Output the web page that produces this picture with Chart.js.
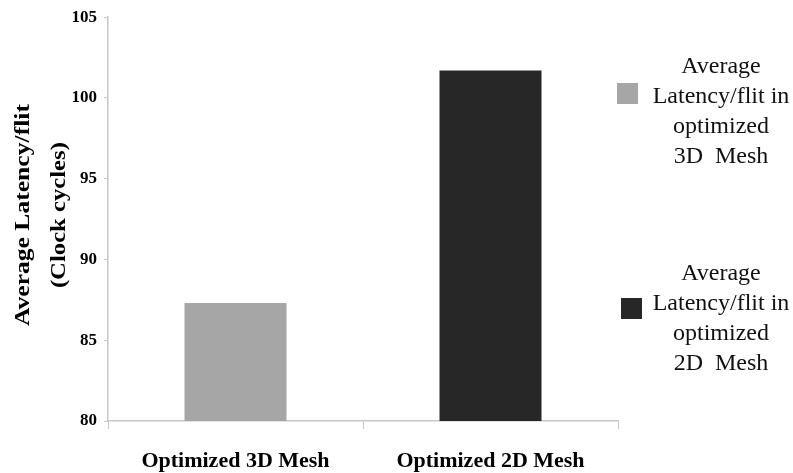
<!DOCTYPE html>
<html>
<head>
<meta charset="utf-8">
<script src="https://cdn.jsdelivr.net/npm/chart.js@4/dist/chart.umd.min.js"></script>
<style>
	body{ margin:0; background:#fff; }
	#wrap{ position:relative; width:793px; height:473px; }
	#legend{ position:absolute; left:0; top:0; font-family:"Liberation Serif", "Times New Roman", serif; font-size:24px; color:#111; }
	.legendItem{ position:absolute; width:156px; text-align:center; line-height:30px; }
	.legendBox{ position:absolute; width:21px; height:21px; }
</style>
</head>
<body>
<div id="wrap">
	<canvas id="latency" width="793" height="473"></canvas>
	<div id="legend"></div>
</div>
<script>
// chart data
const categories = ['Optimized 3D Mesh', 'Optimized 2D Mesh'];
const latency = [87.3, 101.7];
const barColors = ['#a6a6a6', '#272727'];
const legendLines = [
	['Average', 'Latency/flit in', 'optimized', '3D\u00a0 Mesh'],
	['Average', 'Latency/flit in', 'optimized', '2D\u00a0 Mesh']
];
const yTicks = [80, 85, 90, 95, 100, 105];
const yTitle = 'Average Latency/flit';
const ySubTitle = '(Clock cycles)';

const serif = '"Liberation Serif", "Times New Roman", serif';

// draw one rotated, slightly stretched title line
function drawRotated(ctx, text, x, y, font, length){
	ctx.save();
	ctx.font = font;
	let w = ctx.measureText(text).width;
	ctx.translate(x, y);
	ctx.rotate(-Math.PI / 2);
	ctx.scale(length / w, 1);
	ctx.fillText(text, 0, 0);
	ctx.restore();
}

// the two line y axis title on the left
const yTitlePlugin = {
	id: 'yTitle',
	afterDraw(chart){
		let ctx = chart.ctx;
		let area = chart.chartArea;
		let mid = (area.top + area.bottom) / 2 - 4;
		ctx.save();
		ctx.fillStyle = '#000';
		ctx.textAlign = 'center';
		ctx.textBaseline = 'middle';
		drawRotated(ctx, yTitle, 24, mid, 'bold 21px ' + serif, 222);
		drawRotated(ctx, ySubTitle, 60, mid, 'bold 20px ' + serif, 146);
		ctx.restore();
	}
};

function buildLegend(){
	let legend = document.querySelector('#legend');
	let tops = [50, 257];
	let boxLefts = [617, 621];
	legendLines.forEach((lines, i) => {
		let item = document.createElement('div');
		item.className = 'legendItem';
		item.style.left = '643px';
		item.style.top = tops[i] + 'px';
		item.innerHTML = lines.join('<br>');
		legend.appendChild(item);
		let box = document.createElement('div');
		box.className = 'legendBox';
		box.style.background = barColors[i];
		box.style.left = boxLefts[i] + 'px';
		box.style.top = (tops[i] + 33 + i * 8) + 'px';
		legend.appendChild(box);
	});
}

document.addEventListener('DOMContentLoaded', () => {
	let ctx = document.querySelector('#latency').getContext('2d');
	new Chart(ctx, {
		type: 'bar',
		data: {
			labels: categories,
			datasets: [{
				data: latency,
				backgroundColor: barColors,
				borderWidth: 0,
				barPercentage: 0.5,
				categoryPercentage: 0.8
			}]
		},
		options: {
			responsive: false,
			animation: false,
			layout: { padding: { top: 14, right: 175, left: 0, bottom: 0 } },
			plugins: { legend: { display: false }, tooltip: { enabled: false } },
			scales: {
				x: {
					grid: { drawOnChartArea: false, drawTicks: true, tickLength: 8, color: '#c8c8c8', offset: true },
					border: { color: '#c8c8c8', width: 1.5 },
					ticks: { color: '#000', padding: 19, font: { family: serif, size: 22, weight: 'bold' } },
					afterFit(scale){ scale.height = 52; }
				},
				y: {
					min: yTicks[0],
					max: yTicks[yTicks.length - 1],
					afterBuildTicks(scale){ scale.ticks = yTicks.map(v => ({ value: v })); },
					grid: { drawOnChartArea: false, drawTicks: true, tickLength: 4, color: '#c8c8c8' },
					border: { color: '#c8c8c8', width: 1.5 },
					ticks: { color: '#000', padding: 7, font: { family: serif, size: 17, weight: 'bold' } },
					afterFit(scale){ scale.width = 108; }
				}
			}
		},
		plugins: [yTitlePlugin]
	});
	buildLegend();
});
</script>
</body>
</html>
